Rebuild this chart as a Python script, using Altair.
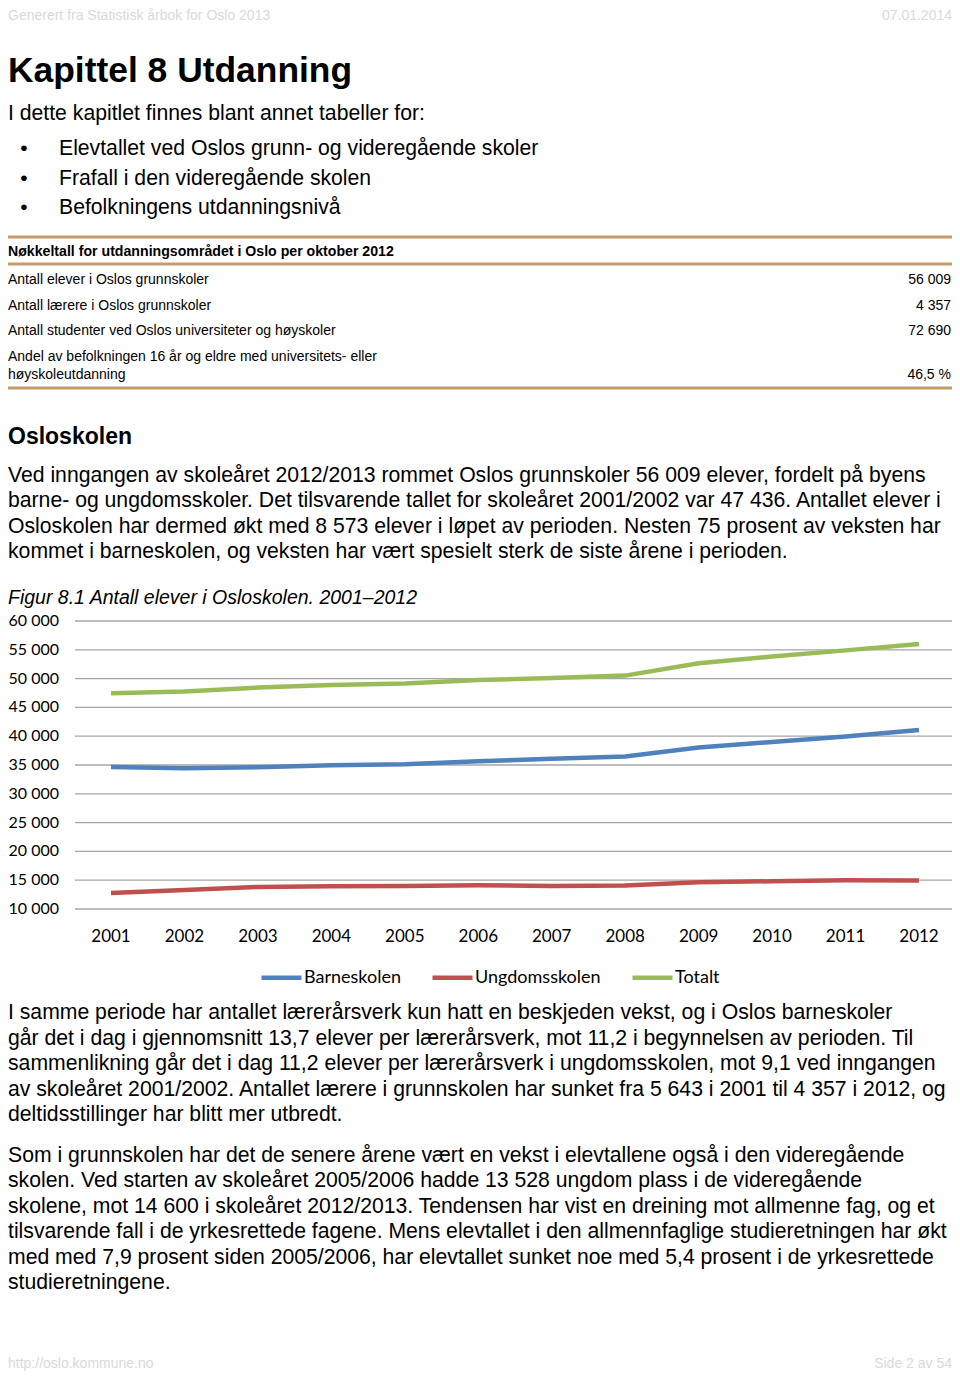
import altair as alt
import pandas as pd

# ---------------- data ----------------
years = list(range(2001, 2013))
barneskolen = [34650, 34430, 34600, 34950, 35120, 35640, 36100, 36460, 38020, 39000, 39930, 41080]
ungdomsskolen = [12786, 13310, 13840, 13940, 14010, 14120, 14000, 14060, 14630, 14820, 14970, 14929]
totalt = [47436, 47740, 48440, 48890, 49130, 49760, 50100, 50520, 52650, 53820, 54900, 56009]
series_names = ["Barneskolen", "Ungdomsskolen", "Totalt"]
series_colors = ["#4F81BD", "#C0504D", "#9BBB59"]
y_ticks = [10000, 15000, 20000, 25000, 30000, 35000, 40000, 45000, 50000, 55000, 60000]
y_tick_labels = ["10 000", "15 000", "20 000", "25 000", "30 000", "35 000",
                 "40 000", "45 000", "50 000", "55 000", "60 000"]

header_left = "Generert fra Statistisk årbok for Oslo 2013"
header_right = "07.01.2014"
footer_left = "http://oslo.kommune.no"
footer_right = "Side 2 av 54"
title = "Kapittel 8 Utdanning"
intro = "I dette kapitlet finnes blant annet tabeller for:"
bullets = ["Elevtallet ved Oslos grunn- og videregående skoler",
           "Frafall i den videregående skolen",
           "Befolkningens utdanningsnivå"]
table_title = "Nøkkeltall for utdanningsområdet i Oslo per oktober 2012"
table_labels = [["Antall elever i Oslos grunnskoler"],
                ["Antall lærere i Oslos grunnskoler"],
                ["Antall studenter ved Oslos universiteter og høyskoler"],
                ["Andel av befolkningen 16 år og eldre med universitets- eller", "høyskoleutdanning"]]
table_values = ["56 009", "4 357", "72 690", "46,5 %"]
section = "Osloskolen"
para1 = ["Ved inngangen av skoleåret 2012/2013 rommet Oslos grunnskoler 56 009 elever, fordelt på byens",
         "barne- og ungdomsskoler. Det tilsvarende tallet for skoleåret 2001/2002 var 47 436. Antallet elever i",
         "Osloskolen har dermed økt med 8 573 elever i løpet av perioden. Nesten 75 prosent av veksten har",
         "kommet i barneskolen, og veksten har vært spesielt sterk de siste årene i perioden."]
fig_caption = "Figur 8.1 Antall elever i Osloskolen. 2001–2012"
para2 = ["I samme periode har antallet lærerårsverk kun hatt en beskjeden vekst, og i Oslos barneskoler",
         "går det i dag i gjennomsnitt 13,7 elever per lærerårsverk, mot 11,2 i begynnelsen av perioden. Til",
         "sammenlikning går det i dag 11,2 elever per lærerårsverk i ungdomsskolen, mot 9,1 ved inngangen",
         "av skoleåret 2001/2002. Antallet lærere i grunnskolen har sunket fra 5 643 i 2001 til 4 357 i 2012, og",
         "deltidsstillinger har blitt mer utbredt."]
para3 = ["Som i grunnskolen har det de senere årene vært en vekst i elevtallene også i den videregående",
         "skolen. Ved starten av skoleåret 2005/2006 hadde 13 528 ungdom plass i de videregående",
         "skolene, mot 14 600 i skoleåret 2012/2013. Tendensen har vist en dreining mot allmenne fag, og et",
         "tilsvarende fall i de yrkesrettede fagene. Mens elevtallet i den allmennfaglige studieretningen har økt",
         "med med 7,9 prosent siden 2005/2006, har elevtallet sunket noe med 5,4 prosent i de yrkesrettede",
         "studieretningene."]

# ---------------- layout ----------------
W, H = 944, 1365
BODY = "Liberation Sans"
CHART_FONT = "Lato"
BODY_SIZE = 21.2
RULE_COLOR = "#C49A6C"
GRID_COLOR = "#A6A6A6"

x_scale = alt.Scale(domain=[2001, 2012], range=[103, 911], nice=False, zero=False)
y_scale = alt.Scale(domain=[10000, 60000], range=[901, 613], nice=False, zero=False)

one = pd.DataFrame({"k": [0]})


def text_layer(lines, x, y, size, weight="normal", style="normal", align="left",
               color="#000000", line_height=None, font=BODY):
    kw = dict(font=font, fontSize=size, fontWeight=weight, fontStyle=style,
              align=align, baseline="alphabetic", color=color)
    if line_height:
        kw["lineHeight"] = line_height
    if isinstance(lines, str):
        lines = [lines]
    txt = lines if len(lines) > 1 else lines[0]
    return alt.Chart(one).mark_text(**kw).encode(
        x=alt.value(x), y=alt.value(y), text=alt.value(txt))


def hrule(y, x1=0, x2=W, width=3, color=RULE_COLOR):
    return alt.Chart(one).mark_rule(color=color, strokeWidth=width).encode(
        x=alt.value(x1), x2=alt.value(x2), y=alt.value(y))


layers = []
# header / footer
layers.append(text_layer(header_left, 0, 12, 14, color="#D9D9D9"))
layers.append(text_layer(header_right, W, 12, 14, color="#D9D9D9", align="right"))
layers.append(text_layer(footer_left, 0, 1360, 14, color="#D9D9D9"))
layers.append(text_layer(footer_right, W, 1360, 14, color="#D9D9D9", align="right"))

# title and intro
layers.append(text_layer(title, 0, 74, 35.4, weight="bold"))
layers.append(text_layer(intro, 0, 112, 21.2))
layers.append(text_layer(["•"] * len(bullets), 16, 147, 21, align="center", line_height=29.5))
layers.append(text_layer(bullets, 51, 147, 21.2, line_height=29.5))

# key figures table
layers.append(hrule(229))
layers.append(hrule(256))
layers.append(hrule(380))
layers.append(text_layer(table_title, 0, 248, 14.15, weight="bold"))
row_baselines = [276, 302, 327, 353]
for lab, val, yb in zip(table_labels, table_values, row_baselines):
    layers.append(text_layer(lab, 0, yb, 14, line_height=18))
    layers.append(text_layer(val, 943, yb + 18 * (len(lab) - 1), 14, align="right"))

# section text
layers.append(text_layer(section, 0, 436, 23, weight="bold"))
layers.append(text_layer(para1, 0, 474, BODY_SIZE, line_height=25.4))
layers.append(text_layer(fig_caption, 0, 596, 19.5, style="italic"))

# chart
ticks_df = pd.DataFrame({"v": y_ticks, "label": y_tick_labels})
grid = alt.Chart(ticks_df).mark_rule(color=GRID_COLOR, strokeWidth=1.3).encode(
    y=alt.Y("v:Q", scale=y_scale, axis=None),
    x=alt.value(67), x2=alt.value(W))
ylabels = alt.Chart(ticks_df).mark_text(font=CHART_FONT, fontSize=16, align="right",
                                         baseline="middle", color="#000000").encode(
    y=alt.Y("v:Q", scale=y_scale, axis=None),
    x=alt.value(51), text="label:N")
years_df = pd.DataFrame({"year": years, "label": [str(y) for y in years]})
xlabels = alt.Chart(years_df).mark_text(font=CHART_FONT, fontSize=17, align="center",
                                         baseline="middle", color="#000000").encode(
    x=alt.X("year:Q", scale=x_scale, axis=None),
    y=alt.value(929), text="label:N")

rows = []
for name, vals in zip(series_names, [barneskolen, ungdomsskolen, totalt]):
    for yr, v in zip(years, vals):
        rows.append({"year": yr, "value": v, "series": name})
lines_df = pd.DataFrame(rows)
lines = alt.Chart(lines_df).mark_line(strokeWidth=4.5).encode(
    x=alt.X("year:Q", scale=x_scale, axis=None),
    y=alt.Y("value:Q", scale=y_scale, axis=None),
    color=alt.Color("series:N",
                    scale=alt.Scale(domain=series_names, range=series_colors),
                    sort=series_names,
                    legend=alt.Legend(orient="none", legendX=251, legendY=947,
                                      direction="horizontal", title=None,
                                      symbolType="stroke", symbolSize=1600,
                                      symbolStrokeWidth=4.5, labelFont=CHART_FONT,
                                      labelFontSize=18, labelColor="#000000",
                                      labelOffset=0, columnPadding=22, labelLimit=0)),
    detail="series:N")

layers += [grid, ylabels, xlabels, lines]

# paragraphs after chart
layers.append(text_layer(para2, 0, 1011, BODY_SIZE, line_height=25.5))
layers.append(text_layer(para3, 0, 1154, BODY_SIZE, line_height=25.4))

chart = alt.layer(*layers).properties(
    width=W, height=H, autosize=alt.AutoSizeParams(type="none"), padding=0,
    background="white"
).configure_view(stroke=None)

chart.save("out.html", embed_options={"renderer": "svg", "actions": False})
